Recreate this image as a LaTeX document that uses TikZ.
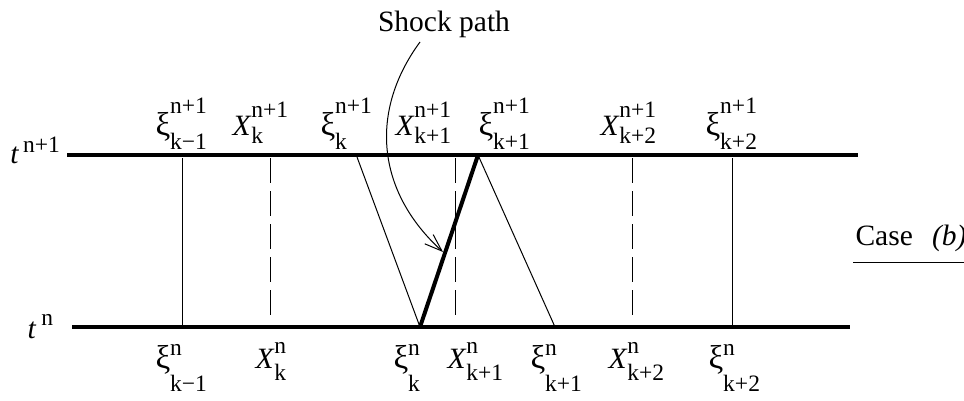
\documentclass[tikz,border=0pt]{standalone}
\usepackage{fontspec}
\setmainfont{Liberation Serif}
\usetikzlibrary{arrows.meta}

% sizes of the labels
\newcommand{\scr}{\fontsize{9.4}{10}\selectfont}
\newcommand{\xig}{\scalebox{1.12}{ξ}}
\newcommand{\lab}[5]{#1\makebox[0pt][l]{\raisebox{#2}{\scr #4}}\raisebox{#3}{\scr #5}}
\newcommand{\xiup}[1]{\lab{\xig}{8.8pt}{-5.6pt}{n+1}{#1}}
\newcommand{\Xup}[1]{\lab{\textit{X}}{7.2pt}{-3.2pt}{n+1}{#1}}
\newcommand{\xidown}[1]{\lab{\xig}{5.2pt}{-9.2pt}{n}{#1}}
\newcommand{\Xdown}[1]{\lab{\textit{X}}{6pt}{-4.8pt}{n}{#1}}

\tikzset{
  level/.style={line width=1.5pt},
  shock/.style={line width=1.6pt},
  thin line/.style={line width=0.4pt},
  cell/.style={line width=0.4pt,dash pattern=on 10pt off 3.2pt},
  lbl/.style={inner sep=0pt,anchor=base west,font=\fontsize{11.8}{14}\selectfont}
}

\begin{document}
\begin{tikzpicture}[x=0.4pt,y=-0.4pt]
\useasboundingbox (0,0) rectangle (964,400);
% time levels
\coordinate (up0) at (67,155);  \coordinate (up1) at (858,155);
\coordinate (lo0) at (72,327);  \coordinate (lo1) at (850,327);
\draw[level] (up0) -- (up1);
\draw[level] (lo0) -- (lo1);
\node[lbl] (tup) at (10,163) {\textit{t}\hspace{1.5pt}\raisebox{4.4pt}{\scr n+1}};
\node[lbl] (tlo) at (27,338) {\textit{t}\hspace{2pt}\raisebox{5.2pt}{\scr n}};
% cell boundaries and centres
\draw[thin line] (182,158) -- (182,325);
\draw[thin line] (732,158) -- (732,325);
\foreach \x in {270,455,632}
  \draw[cell] (\x,158) -- (\x,322);
% shock and characteristics
\coordinate (sfoot) at (420,327);
\coordinate (stop) at (478,155);
\coordinate (cka) at (357,157);
\coordinate (ckb) at (555,327);
\draw[thin line] (cka) -- (sfoot);
\draw[thin line] (stop) -- (ckb);
\draw[shock] (sfoot) -- (stop);
% labels, level n+1
\node[lbl] (xiA) at (155,135) {\xiup{k−1}};
\node[lbl] (XA)  at (232,135) {\Xup{k}};
\node[lbl] (xiB) at (320,135) {\xiup{k}};
\node[lbl] (XB)  at (395,135) {\Xup{k+1}};
\node[lbl] (xiC) at (478,135) {\xiup{k+1}};
\node[lbl] (XC)  at (600,135) {\Xup{k+2}};
\node[lbl] (xiD) at (705,135) {\xiup{k+2}};
% labels, level n
\node[lbl] (xia) at (155,368) {\xidown{k−1}};
\node[lbl] (Xa)  at (255,368) {\Xdown{k}};
\node[lbl] (xib) at (393,368) {\xidown{k}};
\node[lbl] (Xb)  at (447,368) {\Xdown{k+1}};
\node[lbl] (xic) at (530,368) {\xidown{k+1}};
\node[lbl] (Xc)  at (608,368) {\Xdown{k+2}};
\node[lbl] (xid) at (708,368) {\xidown{k+2}};
% shock label
\node[lbl,anchor=base] (shk) at (444,31) {Shock path};
\coordinate (tip) at (443,252);
\draw[thin line,-{Straight Barb[length=7pt,width=5pt]}] (420,42) .. controls (370,110) and (375,190) .. (tip);
% case
\node[lbl] (case) at (855,245) {Case\hspace{0.65em}\textit{(b)}};
\coordinate (ul0) at (853,262);
\coordinate (ul1) at (964,262);
\draw[thin line] (ul0) -- (ul1);
\end{tikzpicture}
\end{document}
